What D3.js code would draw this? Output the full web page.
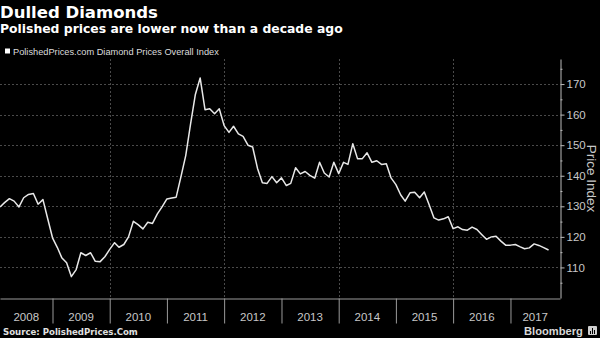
<!DOCTYPE html>
<html><head><meta charset="utf-8">
<script src="https://cdn.jsdelivr.net/npm/d3@7"></script>
<style>body{margin:0;background:#000}svg{display:block}</style>
</head><body>
<svg id="c" width="600" height="338"></svg>
<script>
// ---- data ----
const startMonth = "2008-02";   // first monthly observation
const values = [
 129.8,131.2,132.5,131.7,129.8,132.8,133.9,134.2,130.7,132.2,126.0,
 119.7,116.5,113.2,111.5,107.0,109.3,114.8,113.9,114.8,112.0,111.9,113.5,
 115.9,118.1,116.6,117.5,120.0,125.1,124.0,122.6,124.8,124.4,127.5,129.8,
 132.4,132.7,133.0,139.8,146.6,157.0,166.5,172.0,161.6,161.9,160.3,161.9,
 156.4,154.2,156.2,153.7,152.9,150.0,149.4,142.4,137.7,137.5,139.7,137.7,
 139.3,136.8,137.5,142.6,140.6,141.4,140.1,139.2,144.4,140.9,139.6,144.4,
 140.7,144.4,143.7,150.5,145.6,145.6,147.5,144.4,144.9,143.7,143.9,139.3,
 137.1,133.7,131.7,134.4,134.6,132.8,134.7,130.5,126.2,125.5,125.9,126.6,
 122.7,123.3,122.4,122.2,123.2,122.4,120.8,119.2,120.0,120.2,118.6,117.3,
 117.3,117.5,116.8,116.1,116.4,117.7,117.2,116.5,115.7
];
const yearLabels = ["2008","2009","2010","2011","2012","2013","2014","2015","2016","2017"];
const gridYears = ["2010","2012","2014","2016"];
const yTicks = [110,120,130,140,150,160,170];
const yMinorTicks = [105,115,125,135,145,155,165,175];

const title = "Dulled Diamonds";
const subtitle = "Polished prices are lower now than a decade ago";
const legendLabel = "PolishedPrices.com Diamond Prices Overall Index";
const yTitle = "Price Index";
const source = "Source: PolishedPrices.Com";

// ---- setup ----
const svg = d3.select("#c");
svg.append("rect").attr("width",600).attr("height",338).attr("fill","#000");

const parse = d3.timeParse("%Y-%m");
const t0 = parse(startMonth);
const data = values.map((v,i)=>({date: d3.timeMonth.offset(t0,i), v}));

const L = 0, R = 560, T = 59, B = 298;
const x = d3.scaleTime().domain([new Date(2008,1,1), new Date(2017,10,13)]).range([L,R]);
const y = d3.scaleLinear().domain([100,178.2]).range([B,T]);

function fit(sel, w){
  const n = sel.node(); const fs = parseFloat(sel.attr("font-size"));
  const len = n.getComputedTextLength(); if(len>0) sel.attr("font-size", fs*w/len);
  return sel;
}

// horizontal gridlines
svg.append("g").selectAll("line").data(yTicks).join("line")
  .attr("x1",L).attr("x2",R)
  .attr("y1",d=>Math.round(y(d))+0.5).attr("y2",d=>Math.round(y(d))+0.5)
  .attr("stroke","#4a4a4a").attr("stroke-width",1).attr("stroke-dasharray","2,2");

// vertical gridlines (every other year)
svg.append("g").selectAll("line").data(gridYears).join("line")
  .attr("x1",d=>Math.round(x(new Date(+d,0,1)))+0.5).attr("x2",d=>Math.round(x(new Date(+d,0,1)))+0.5)
  .attr("y1",T).attr("y2",B)
  .attr("stroke","#4a4a4a").attr("stroke-width",1).attr("stroke-dasharray","2,2");

// bottom axis with year separators
const yearStarts = yearLabels.slice(1).map(s=>new Date(+s,0,1));
const xAxis = d3.axisBottom(x).tickValues(yearStarts).tickSize(25).tickSizeOuter(0).tickFormat("");
const gx = svg.append("g").attr("transform",`translate(0,${B+0.5})`).call(xAxis);
gx.select(".domain").attr("stroke","#9a9a9a");
gx.selectAll(".tick line").attr("stroke","#9a9a9a");

// year labels centred in visible span
svg.append("g").selectAll("text").data(yearLabels).join("text")
  .attr("x",d=>{
    const a = Math.max(L, x(new Date(+d,0,1))), b = Math.min(R, x(new Date(+d+1,0,1)));
    return (a+b)/2;
  })
  .attr("y",321).attr("text-anchor","middle")
  .attr("font-family","Liberation Sans, Arial, sans-serif").attr("font-size",11.5)
  .attr("fill","#c8c8c8").text(d=>d);

// right axis
const yAxis = d3.axisRight(y).tickValues(yTicks).tickSize(4).tickSizeOuter(0).tickPadding(2);
const gy = svg.append("g").attr("transform",`translate(${R+0.5},0)`).call(yAxis);
gy.select(".domain").attr("stroke","#bbbbbb");
gy.selectAll(".tick line").attr("stroke","#bbbbbb");
gy.selectAll(".tick text").attr("fill","#c8c8c8")
  .attr("font-family","Liberation Sans, Arial, sans-serif").attr("font-size",11.5);
const yMinor = d3.axisRight(y).tickValues(yMinorTicks).tickSize(2).tickSizeOuter(0).tickFormat("");
const gym = svg.append("g").attr("transform",`translate(${R+0.5},0)`).call(yMinor);
gym.select(".domain").remove();
gym.selectAll(".tick line").attr("stroke","#bbbbbb");

// line
const line = d3.line().x(d=>x(d.date)).y(d=>y(d.v));
svg.append("path").datum(data).attr("d",line)
  .attr("fill","none").attr("stroke","#e8e8e8").attr("stroke-width",1.5)
  .attr("stroke-linejoin","round");

// titles
fit(svg.append("text").attr("x",0).attr("y",17.5)
  .attr("font-family","DejaVu Sans, Verdana, sans-serif").attr("font-weight","bold")
  .attr("font-size",17).attr("fill","#fff").text(title), 158);
fit(svg.append("text").attr("x",0).attr("y",32.5)
  .attr("font-family","DejaVu Sans, Verdana, sans-serif").attr("font-weight","bold")
  .attr("font-size",13).attr("fill","#fff").text(subtitle), 343);

// legend
svg.append("rect").attr("x",5).attr("y",48.5).attr("width",5).attr("height",5).attr("fill","#fff");
fit(svg.append("text").attr("x",13).attr("y",54.5)
  .attr("font-family","Liberation Sans, Arial, sans-serif")
  .attr("font-size",10).attr("fill","#dcdcdc").text(legendLabel), 206);

// y title
svg.append("text").attr("transform","translate(587,178.5) rotate(90)")
  .attr("text-anchor","middle")
  .attr("font-family","Liberation Sans, Arial, sans-serif").attr("font-size",13.5)
  .attr("fill","#c8c8c8").text(yTitle);

// source
fit(svg.append("text").attr("x",3).attr("y",335)
  .attr("font-family","DejaVu Sans, Verdana, sans-serif").attr("font-weight","bold")
  .attr("font-size",10).attr("fill","#e0e0e0").text(source), 135);

// Bloomberg mark
fit(svg.append("text").attr("x",524).attr("y",334.5)
  .attr("font-family","Liberation Sans, Arial, sans-serif").attr("font-weight","bold")
  .attr("font-size",12).attr("fill","#d8d8d8").text("Bloomberg"), 59);
const ic = svg.append("g").attr("transform","translate(588,326)");
ic.append("rect").attr("width",9).attr("height",9).attr("rx",1).attr("fill","#cfcfcf");
[[2,5,1,3],[4,2,1,6],[6,4,1,4]].forEach(([bx,by,bw,bh])=>
  ic.append("rect").attr("x",bx).attr("y",by).attr("width",bw).attr("height",bh).attr("fill","#000"));
</script>
</body></html>
